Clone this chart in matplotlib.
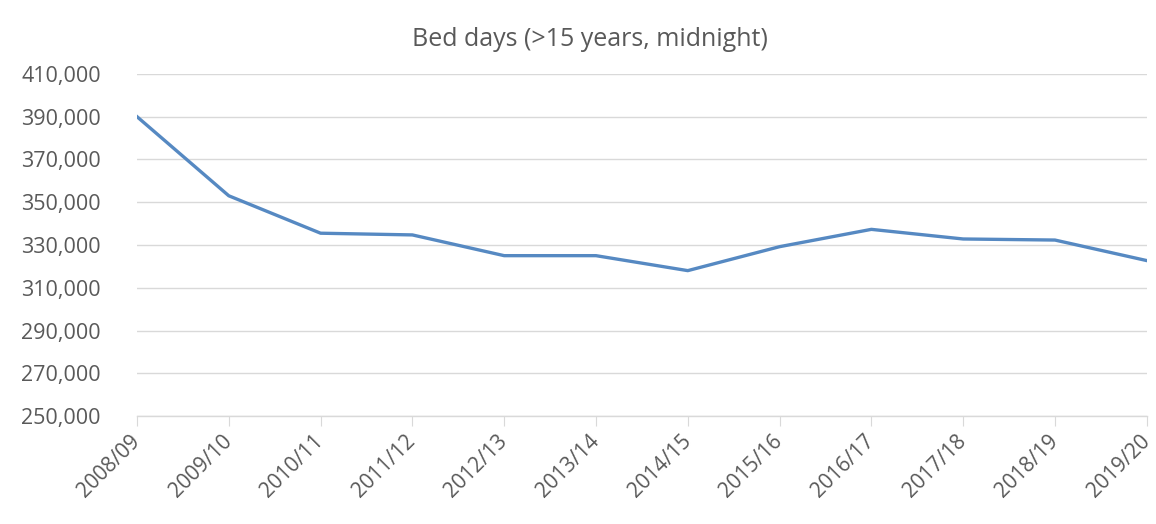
import matplotlib
matplotlib.use("Agg")
import matplotlib.pyplot as plt
from matplotlib.ticker import FuncFormatter

# Bed days per financial year
years = ["2008/09", "2009/10", "2010/11", "2011/12", "2012/13", "2013/14",
         "2014/15", "2015/16", "2016/17", "2017/18", "2018/19", "2019/20"]
bed_days = [390000, 353000, 335500, 334700, 325000, 325000,
            318000, 329200, 337300, 332800, 332300, 322700]
y_ticks = list(range(250000, 410001, 20000))

plt.rcParams["font.family"] = ["Open Sans", "DejaVu Sans"]
text_col = "#595959"
grid_col = "#d9d9d9"

fig = plt.figure(figsize=(11.56, 5.24), dpi=100)
ax = fig.add_axes([0.1185, 0.206, 0.8735, 0.653])

x = list(range(len(years)))
ax.plot(x, bed_days, color="#5689c2", lw=2.4, solid_joinstyle="round", zorder=3)

ax.set_xlim(0, len(years) - 1)
ax.set_ylim(250000, 410000)
ax.set_yticks(y_ticks)
ax.yaxis.set_major_formatter(FuncFormatter(lambda v, p: f"{int(v):,}"))
ax.set_xticks(x)
ax.set_xticklabels(years, rotation=45, ha="right", va="center",
                   rotation_mode="anchor")

ax.grid(axis="y", color=grid_col, lw=1)
ax.set_axisbelow(True)
for s in ["top", "right", "left"]:
    ax.spines[s].set_visible(False)
ax.spines["bottom"].set_color(grid_col)
ax.spines["bottom"].set_linewidth(1)

ax.tick_params(axis="y", length=0, pad=26, labelsize=15.5, labelcolor=text_col)
ax.tick_params(axis="x", length=7, color=grid_col, pad=9, labelsize=15,
               labelcolor=text_col)

fig.suptitle("Bed days (>15 years, midnight)", x=0.51, y=0.948,
             fontsize=18, color=text_col)

fig.savefig("out.png", dpi=100, facecolor="white")
